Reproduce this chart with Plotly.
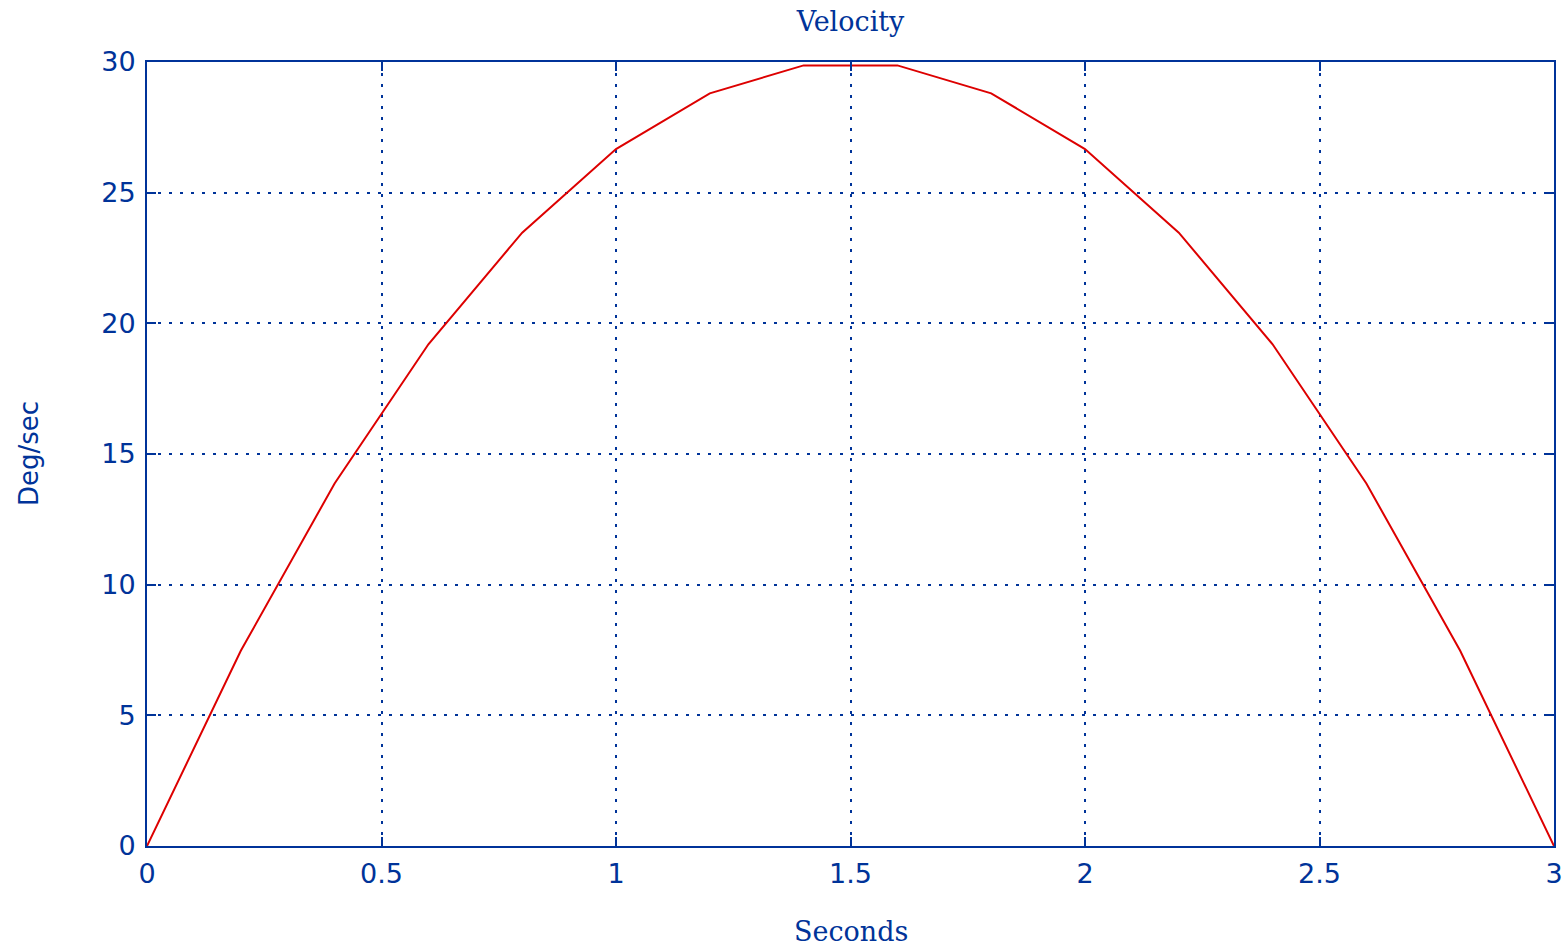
import plotly.graph_objects as go

# Data (samples every 0.2 s)
seconds = [0.0, 0.2, 0.4, 0.6, 0.8, 1.0, 1.2, 1.4, 1.6, 1.8, 2.0, 2.2, 2.4, 2.6, 2.8, 3.0]
deg_per_sec = [0.0, 7.47, 13.87, 19.2, 23.47, 26.67, 28.8, 29.87,
               29.87, 28.8, 26.67, 23.47, 19.2, 13.87, 7.47, 0.0]
x_ticks = [0, 0.5, 1, 1.5, 2, 2.5, 3]
x_tick_labels = ["0", "0.5", "1", "1.5", "2", "2.5", "3"]
y_ticks = [0, 5, 10, 15, 20, 25, 30]
y_tick_labels = ["0", "5", "10", "15", "20", "25", "30"]

BLUE = "#003399"
RED = "#DD0000"
SERIF = "DejaVu Serif"
SANS = "DejaVu Sans"

fig = go.Figure()
fig.add_trace(go.Scatter(
    x=seconds, y=deg_per_sec, mode="lines",
    line=dict(color=RED, width=2), showlegend=False, hoverinfo="skip"))

axis_common = dict(
    showline=True, linecolor=BLUE, linewidth=2, mirror="ticks",
    ticks="inside", ticklen=9, tickwidth=2, tickcolor=BLUE,
    showgrid=True, gridcolor=BLUE, gridwidth=2, griddash="3px,8px",
    zeroline=False, automargin=False,
    tickfont=dict(family=SANS, size=27, color=BLUE),
)

fig.update_xaxes(range=[0, 3], tickmode="array", tickvals=x_ticks,
                 ticktext=x_tick_labels, ticklabelstandoff=3, **axis_common)
fig.update_yaxes(range=[0, 30], tickmode="array", tickvals=y_ticks,
                 ticktext=y_tick_labels, ticklabelstandoff=4, **axis_common)

fig.add_annotation(text="Seconds", xref="paper", yref="paper", x=0.5, y=0,
                   yshift=-85, xanchor="center", yanchor="middle", showarrow=False,
                   font=dict(family=SERIF, size=27, color=BLUE))
fig.add_annotation(text="Deg/sec", xref="paper", yref="paper", x=0, y=0.5,
                   xshift=-118, xanchor="center", yanchor="middle", textangle=-90,
                   showarrow=False, font=dict(family=SANS, size=26, color=BLUE))

fig.update_layout(
    width=1568, height=952,
    margin=dict(l=147, r=14, t=62, b=106, autoexpand=False),
    paper_bgcolor="white", plot_bgcolor="white",
    title=dict(text="Velocity", xref="paper", x=0.5, xanchor="center",
               y=0.977, yanchor="middle",
               font=dict(family=SERIF, size=27, color=BLUE)),
)

fig.write_html("out.html")
